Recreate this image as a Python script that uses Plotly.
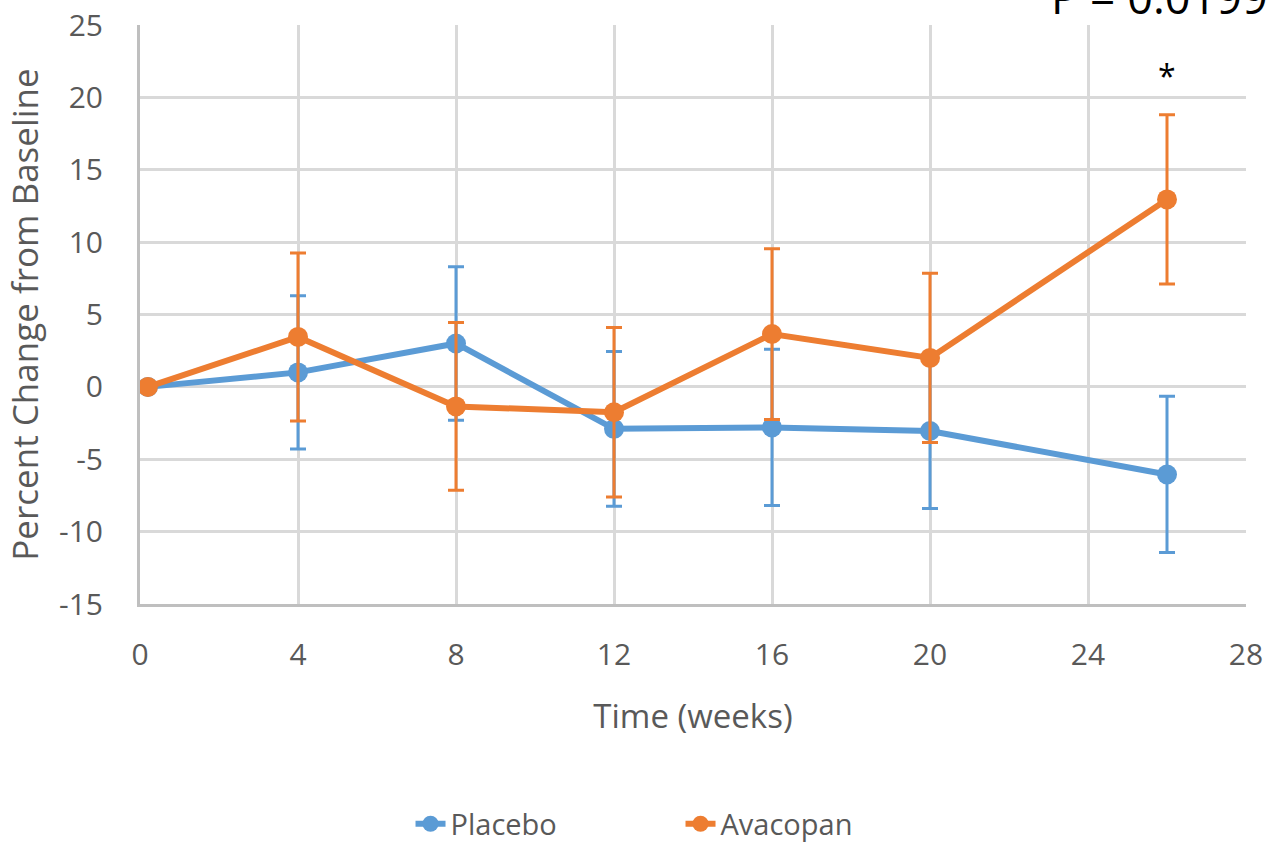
import plotly.graph_objects as go

# Study visit times (weeks)
weeks = [0.2, 4, 8, 12, 16, 20, 26]

# Mean percent change from baseline and standard errors
placebo_mean = [0.0, 1.0, 3.0, -2.9, -2.8, -3.05, -6.05]
placebo_err = [0.0, 5.3, 5.3, 5.35, 5.4, 5.35, 5.4]

avacopan_mean = [0.0, 3.45, -1.35, -1.75, 3.65, 2.0, 12.95]
avacopan_err = [0.0, 5.8, 5.8, 5.85, 5.9, 5.85, 5.85]

x_ticks = [0, 4, 8, 12, 16, 20, 24, 28]
y_ticks = [-15, -10, -5, 0, 5, 10, 15, 20, 25]

p_value_text = "P = 0.0199"
significance_mark = "*"

BLUE = "#5B9BD5"
ORANGE = "#ED7D31"
TEXT = "#595959"
GRID = "#d9d9d9"
AXIS = "#bfbfbf"
FONT = "Open Sans"

fig = go.Figure()

fig.add_trace(go.Scatter(
    x=weeks, y=placebo_mean, name="Placebo", mode="lines+markers",
    line=dict(color=BLUE, width=6),
    marker=dict(color=BLUE, size=20),
    error_y=dict(type="data", array=placebo_err, visible=True,
                 color=BLUE, thickness=3, width=8),
))
fig.add_trace(go.Scatter(
    x=weeks, y=avacopan_mean, name="Avacopan", mode="lines+markers",
    line=dict(color=ORANGE, width=6),
    marker=dict(color=ORANGE, size=20),
    error_y=dict(type="data", array=avacopan_err, visible=True,
                 color=ORANGE, thickness=3, width=8),
))

# significance marker above the week-26 Avacopan point
fig.add_annotation(x=weeks[-1], y=21.5, text=significance_mark, showarrow=False,
                   font=dict(family=FONT, size=32, color="#000000"),
                   xanchor="center", yanchor="middle")

# p-value label at the upper right
fig.add_annotation(xref="paper", yref="paper", x=0.822, y=1.0, yshift=-4,
                   text=p_value_text, showarrow=False,
                   font=dict(family=FONT, size=45, color="#000000"),
                   xanchor="left", yanchor="bottom")

fig.update_layout(
    width=1272, height=845,
    margin=dict(l=140, r=26, t=25, b=241),
    paper_bgcolor="white", plot_bgcolor="white",
    font=dict(family=FONT, size=30, color=TEXT),
    showlegend=True,
    legend=dict(orientation="h", xref="container", yref="container",
                x=0.535, y=0.025, xanchor="center", yanchor="middle",
                font=dict(family=FONT, size=29, color=TEXT),
                entrywidth=225, entrywidthmode="pixels",
                traceorder="normal"),
)

fig.update_xaxes(
    range=[0, 28], tickvals=x_ticks, ticktext=[str(v) for v in x_ticks],
    showgrid=True, gridcolor=GRID, gridwidth=3,
    showline=True, linecolor=AXIS, linewidth=3,
    ticks="outside", ticklen=22, tickcolor="rgba(0,0,0,0)",
    zeroline=False, automargin=False,
    title=dict(text="Time (weeks)", font=dict(family=FONT, size=33, color=TEXT), standoff=32),
    tickfont=dict(family=FONT, size=30, color=TEXT),
)
fig.update_yaxes(
    range=[-15, 25], tickvals=y_ticks, ticktext=[str(v) for v in y_ticks],
    showgrid=True, gridcolor=GRID, gridwidth=3,
    showline=True, linecolor=AXIS, linewidth=3,
    ticks="outside", ticklen=28, tickcolor="rgba(0,0,0,0)",
    zeroline=False, automargin=False,
    title=dict(text="Percent Change from Baseline", font=dict(family=FONT, size=35, color=TEXT), standoff=10),
    tickfont=dict(family=FONT, size=30, color=TEXT),
)

fig.write_html("out.html")
